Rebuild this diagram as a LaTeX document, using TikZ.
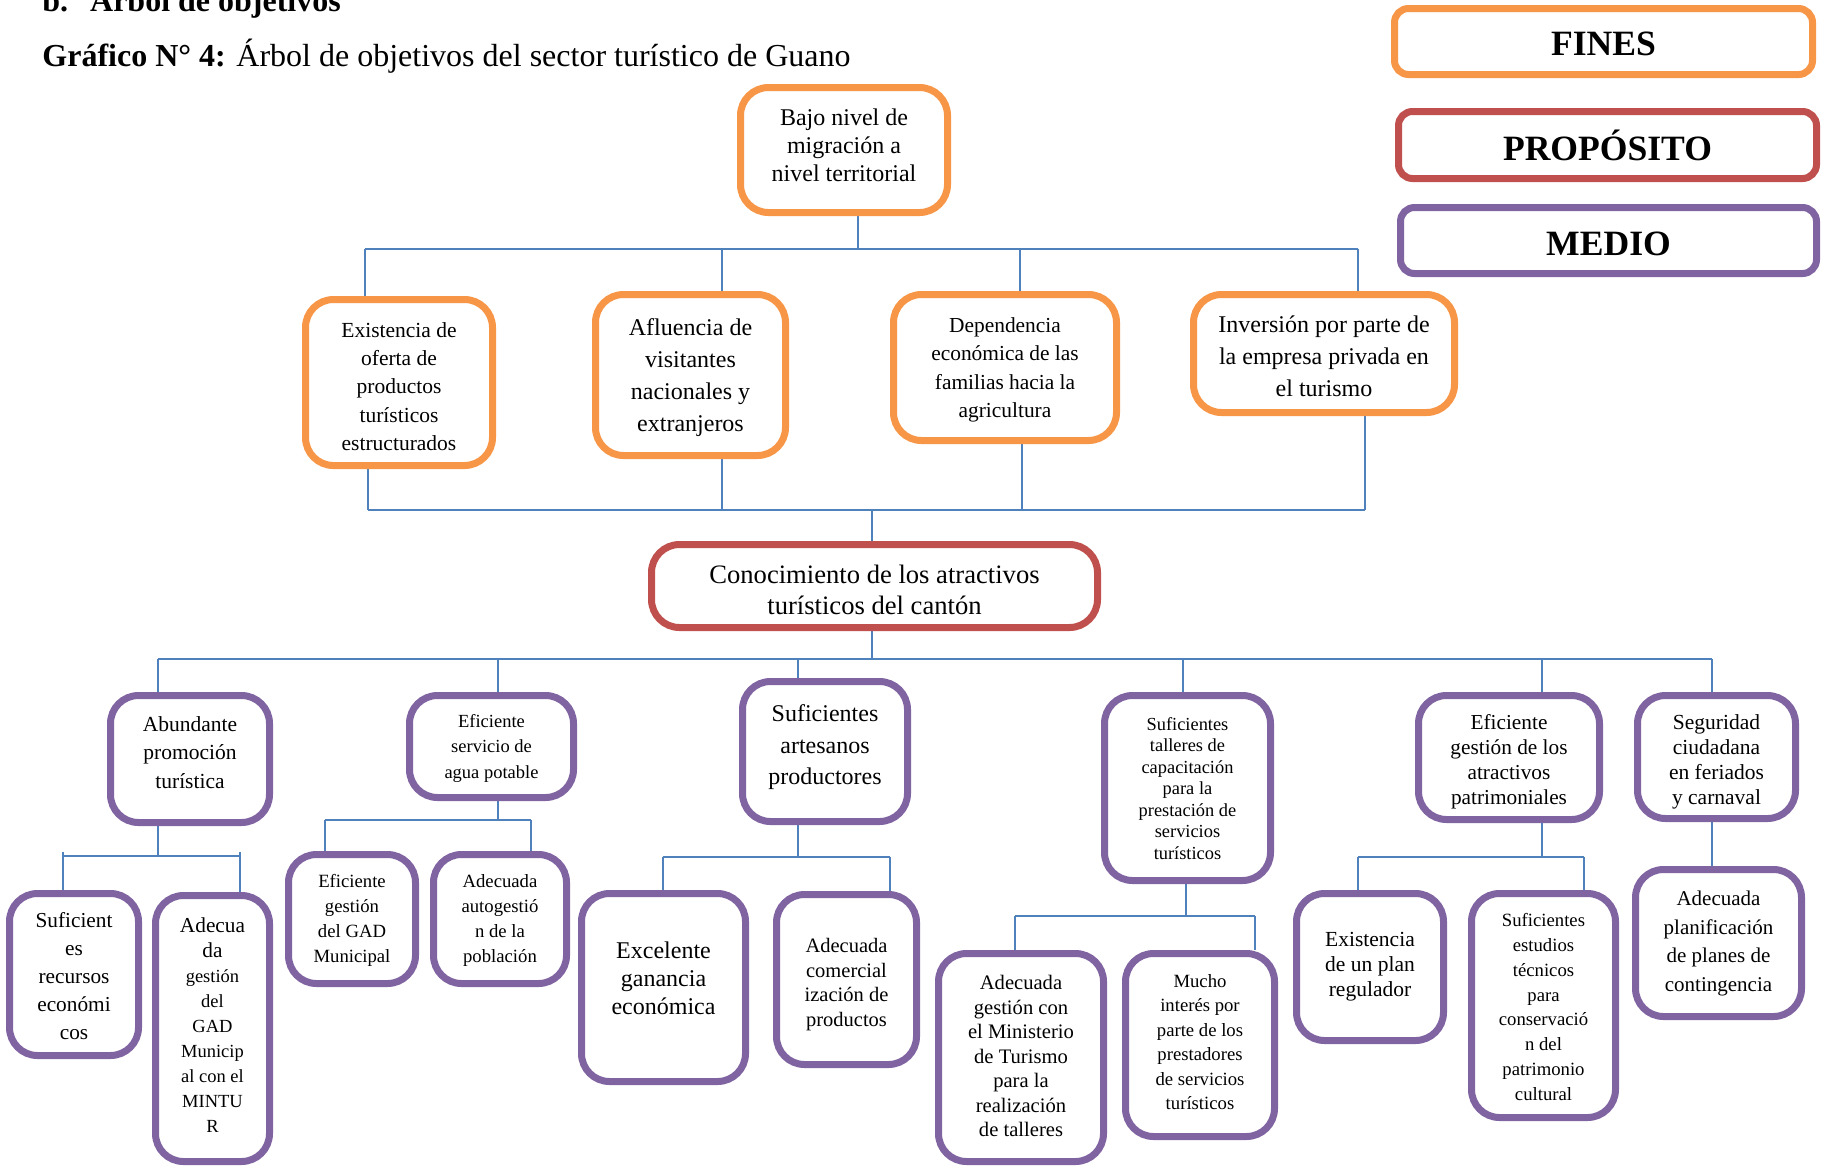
\documentclass[tikz,border=0pt]{standalone}
\usepackage{fontspec}
\setmainfont{Liberation Serif}
\usetikzlibrary{backgrounds,calc}
\definecolor{cfin}{HTML}{F79646}
\definecolor{cpro}{HTML}{C0504D}
\definecolor{cmed}{HTML}{8064A2}
\definecolor{ccon}{HTML}{4F81BD}
\newcommand\fsz[2]{\fontsize{#1}{#2}\selectfont}
% style, name, x1, y1, x2, y2, font, text, lift of the text (pt)
\newcommand\bx[9]{%
  \pgfmathsetmacro\bxcx{(#3+#5)/2}%
  \pgfmathsetmacro\bxcy{(#4+#6)/2}%
  \pgfmathsetmacro\bxw{(#5-#3-7)/2}%
  \pgfmathsetmacro\bxh{(#6-#4-7)/2}%
  \node[#1,minimum width=\bxw pt,minimum height=\bxh pt,font=#7] (#2) at (\bxcx,\bxcy)
    {\raisebox{\dimexpr #9pt-0.25em\relax}[0pt][0pt]{\begin{tabular}{@{}c@{}}#8\end{tabular}}};}
\begin{document}
\begin{tikzpicture}[x=0.5pt,y=-0.5pt,
  box/.style={draw,line width=3.5pt,rounded corners=14pt,inner sep=0pt,fill=white},
  fin/.style={box,draw=cfin},
  pro/.style={box,draw=cpro},
  med/.style={box,draw=cmed},
  leg/.style={box,rounded corners=7pt},
  con/.style={draw=ccon,line width=1pt}]
\useasboundingbox (0,0) rectangle (1821,1169);
% titles
\node[anchor=base west,inner sep=0pt,font=\fsz{16}{19}\bfseries] (t0) at (42,11) {b.\hspace{11pt}Árbol de objetivos};
\node[anchor=base west,inner sep=0pt,font=\fsz{16}{19}] (t1) at (42,66) {\textbf{Gráfico N° 4:} Árbol de objetivos del sector turístico de Guano};
% legend
\bx{leg,draw=cfin}{lf}{1391}{5}{1816}{78}{\fsz{17.8}{20}\bfseries}{FINES}{-2.9}
\bx{leg,draw=cpro}{lp}{1395}{108}{1820}{182}{\fsz{17.8}{20}\bfseries}{PROPÓSITO}{-2.9}
\bx{leg,draw=cmed}{lm}{1397}{204}{1820}{277}{\fsz{17.8}{20}\bfseries}{MEDIO}{-3.5}
% fines
\bx{fin}{top}{737}{84}{951}{216}{\fsz{12}{14}}{Bajo nivel de\\migración a\\nivel territorial}{1.25}
\bx{fin}{ex}{302}{296}{496}{469}{\fsz{10.75}{14.15}}{Existencia de\\oferta de\\productos\\turísticos\\estructurados}{-2.9}
\bx{fin}{af}{592}{291}{789}{459}{\fsz{12}{16}}{Afluencia de\\visitantes\\nacionales y\\extranjeros}{-0.9}
\bx{fin}{de}{890}{291}{1120}{444}{\fsz{10.7}{14.25}}{Dependencia\\económica de las\\familias hacia la\\agricultura}{-0.9}
\bx{fin}{inv}{1190}{291}{1458}{416}{\fsz{12}{16}}{Inversión por parte de\\la empresa privada en\\el turismo}{-2.3}
% proposito
\bx{pro}{pu}{648}{541}{1101}{631}{\fsz{13.3}{15.5}}{Conocimiento de los atractivos\\turísticos del cantón}{-3.45}
% medios row 3
\bx{med}{ab}{107}{692}{273}{826}{\fsz{10.75}{14.25}}{Abundante\\promoción\\turística}{2.4}
\bx{med}{ag}{406}{692}{577}{801}{\fsz{9.25}{12.75}}{Eficiente\\servicio de\\agua potable}{-0.6}
\bx{med}{ar}{739}{678}{911}{825}{\fsz{12}{15.75}}{Suficientes\\artesanos\\productores}{2.3}
\bx{med}{ta}{1101}{692}{1274}{884}{\fsz{9.2}{10.75}}{Suficientes\\talleres de\\capacitación\\para la\\prestación de\\servicios\\turísticos}{-1.2}
\bx{med}{pa}{1415}{692}{1603}{823}{\fsz{10.65}{12.5}}{Eficiente\\gestión de los\\atractivos\\patrimoniales}{-2.3}
\bx{med}{se}{1634}{692}{1799}{822}{\fsz{10.75}{12.5}}{Seguridad\\ciudadana\\en feriados\\y carnaval}{-2.6}
% medios row 4
\bx{med}{su}{6}{890}{142}{1059}{\fsz{10.65}{14}}{Suficient\\es\\recursos\\económi\\cos}{-1.75}
\bx{med}{adg}{152}{892}{273}{1165}{\fsz{9.25}{12.5}}{{\fsz{10.65}{12.5}Adecua}\\{\fsz{10.65}{12.5}da}\\gestión\\del\\GAD\\Municip\\al con el\\MINTU\\R}{0.6}
\bx{med}{egm}{285}{851}{419}{987}{\fsz{9.35}{12.5}}{Eficiente\\gestión\\del GAD\\Municipal}{-0.6}
\bx{med}{aut}{430}{851}{570}{987}{\fsz{9.35}{12.5}}{Adecuada\\autogestió\\n de la\\población}{-0.6}
\bx{med}{exc}{578}{890}{749}{1085}{\fsz{12}{14}}{Excelente\\ganancia\\económica}{3.4}
\bx{med}{com}{773}{891}{920}{1068}{\fsz{10.25}{12.25}}{Adecuada\\comercial\\ización de\\productos}{-2.6}
\bx{med}{min}{935}{950}{1107}{1165}{\fsz{10.3}{12.25}}{Adecuada\\gestión con\\el Ministerio\\de Turismo\\para la\\realización\\de talleres}{-0.4}
\bx{med}{muc}{1122}{950}{1278}{1140}{\fsz{9.35}{12.25}}{Mucho\\interés por\\parte de los\\prestadores\\de servicios\\turísticos}{0.7}
\bx{med}{pl}{1293}{890}{1447}{1044}{\fsz{10.75}{12.5}}{Existencia\\de un plan\\regulador}{0}
\bx{med}{est}{1468}{890}{1619}{1121}{\fsz{9.35}{12.4}}{Suficientes\\estudios\\técnicos\\para\\conservació\\n del\\patrimonio\\cultural}{-1.45}
\bx{med}{cg}{1632}{866}{1805}{1020}{\fsz{10.5}{14.2}}{Adecuada\\planificación\\de planes de\\contingencia}{0}
% connectors
\begin{scope}[on background layer]
\draw[con] (858,0 |- top.south) -- (858,248.5);
\draw[con] (365,248.5) -- (1358,248.5);
\foreach \xx/\nn in {365/ex,722/af,1020/de,1358/inv} \draw[con] (\xx,248.5) -- (\xx,0 |- \nn.north);
\foreach \xx/\nn in {368/ex,722/af,1022/de,1365/inv} \draw[con] (\xx,0 |- \nn.south) -- (\xx,510);
\draw[con] (368,510) -- (1365,510);
\draw[con] (872,510) -- (872,0 |- pu.north);
\draw[con] (872,0 |- pu.south) -- (872,658.5);
\draw[con] (158,658.5) -- (1712,658.5);
\foreach \xx/\nn in {158/ab,498/ag,798/ar,1183/ta,1542/pa,1712/se} \draw[con] (\xx,658.5) -- (\xx,0 |- \nn.north);
% under ab
\draw[con] (158,0 |- ab.south) -- (158,856);
\draw[con] (63,856) -- (240,856);
\foreach \xx/\nn in {63/su,240/adg} \draw[con] (\xx,852) -- (\xx,0 |- \nn.north);
% under ag
\draw[con] (498,0 |- ag.south) -- (498,820);
\draw[con] (325,820) -- (531,820);
\foreach \xx/\nn in {325/egm,531/aut} \draw[con] (\xx,820) -- (\xx,0 |- \nn.north);
% under ar
\draw[con] (798,0 |- ar.south) -- (798,857);
\draw[con] (663,857) -- (890,857);
\foreach \xx/\nn in {663/exc,890/com} \draw[con] (\xx,857) -- (\xx,0 |- \nn.north);
% under ta
\draw[con] (1186,0 |- ta.south) -- (1186,916);
\draw[con] (1015,916) -- (1255,916);
\foreach \xx/\nn in {1015/min,1255/muc} \draw[con] (\xx,916) -- (\xx,0 |- \nn.north);
% under pa
\draw[con] (1542,0 |- pa.south) -- (1542,857);
\draw[con] (1358,857) -- (1584,857);
\foreach \xx/\nn in {1358/pl,1584/est} \draw[con] (\xx,857) -- (\xx,0 |- \nn.north);
% under se
\draw[con] (1712,0 |- se.south) -- (1712,0 |- cg.north);
\end{scope}
\end{tikzpicture}
\end{document}
